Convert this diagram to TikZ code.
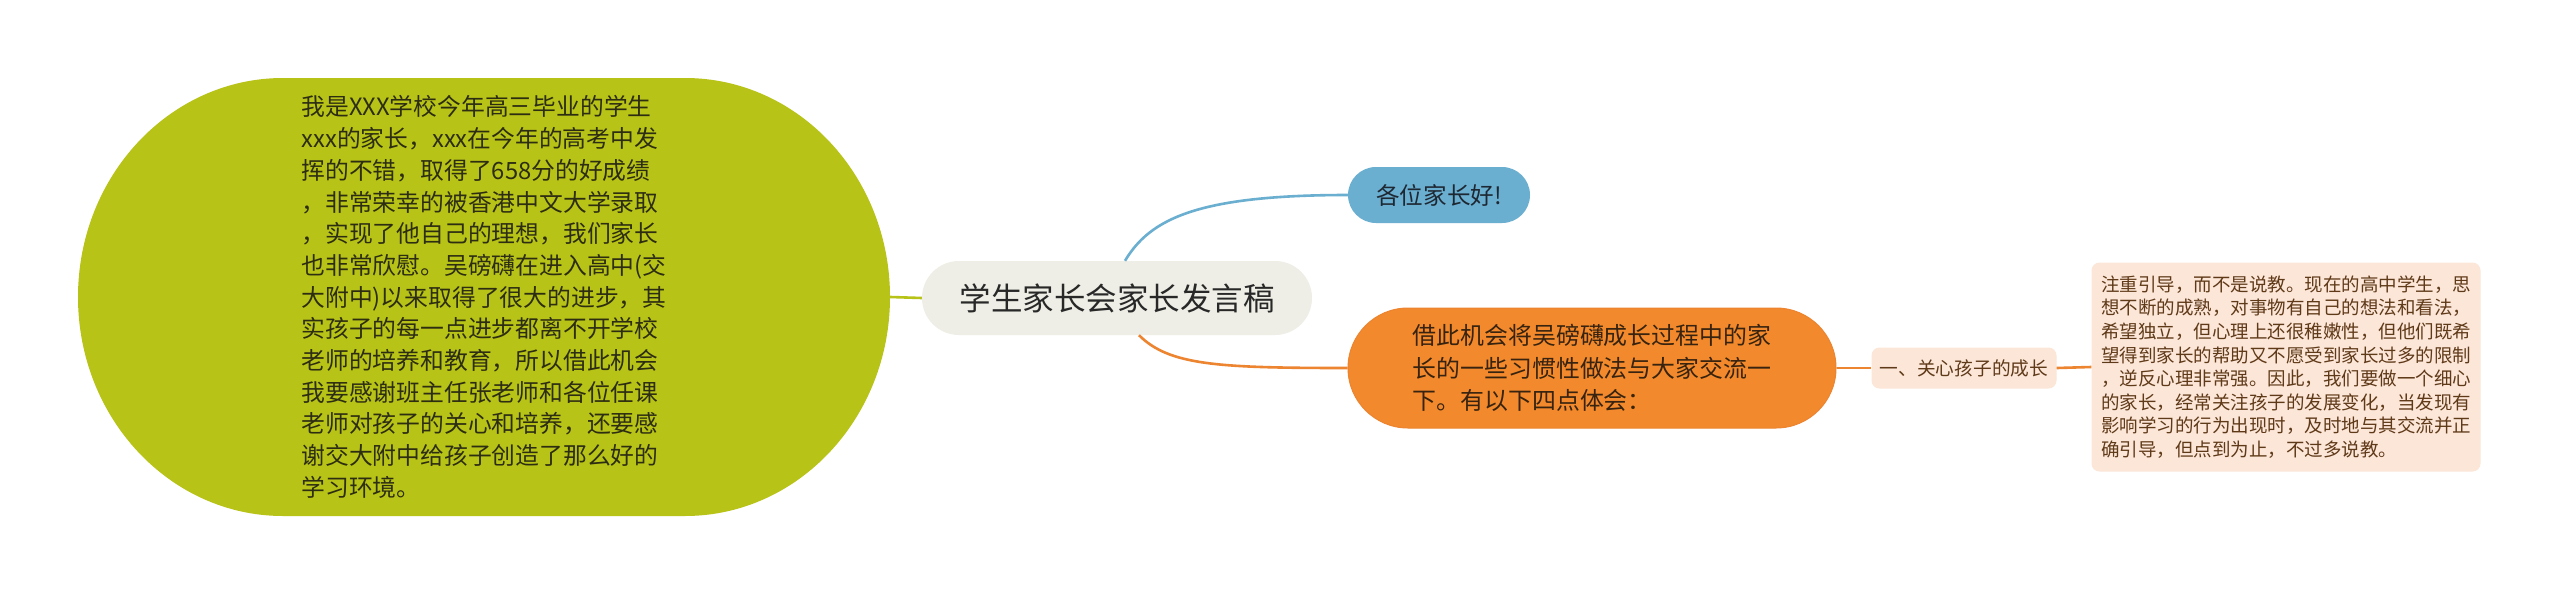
\documentclass[tikz,border=0pt]{standalone}
\usepackage{fontspec}
\setmainfont{Noto Sans CJK SC}
\definecolor{gfill}{RGB}{184,195,24}
\definecolor{gtxt}{RGB}{45,45,18}
\definecolor{cfill}{RGB}{238,238,230}
\definecolor{ctxt}{RGB}{40,40,40}
\definecolor{bfill}{RGB}{106,174,208}
\definecolor{btxt}{RGB}{30,40,50}
\definecolor{ofill}{RGB}{242,137,44}
\definecolor{oline}{RGB}{236,132,48}
\definecolor{otxt}{RGB}{55,35,15}
\definecolor{pfill}{RGB}{252,230,216}
\definecolor{ptxt}{RGB}{95,58,25}
\begin{document}
\begin{tikzpicture}[x=1pt,y=-1pt,
  conn/.style={line width=2.6pt},
  gnode/.style={inner sep=0pt, minimum width=812pt, minimum height=438pt, align=left, text=gtxt,
    font=\fontsize{23.8pt}{31.7pt}\selectfont},
  cnode/.style={fill=cfill, rounded corners=37pt, minimum width=390pt, minimum height=74pt, inner sep=0pt,
    text=ctxt, font=\fontsize{31.5pt}{36pt}\selectfont},
  bnode/.style={fill=bfill, rounded corners=28pt, minimum width=182pt, minimum height=56pt, inner sep=0pt,
    text=btxt, font=\fontsize{23.6pt}{28pt}\selectfont},
  onode/.style={fill=ofill, draw=oline, line width=1pt, rounded corners=60pt, minimum width=488pt, minimum height=120pt, inner sep=0pt,
    align=left, text=otxt, font=\fontsize{23.9pt}{32.5pt}\selectfont},
  snode/.style={fill=pfill, rounded corners=8pt, minimum width=185pt, minimum height=41pt, inner sep=0pt,
    text=ptxt, font=\fontsize{18.7pt}{22pt}\selectfont},
  pnode/.style={fill=pfill, rounded corners=8pt, minimum width=389pt, minimum height=209pt, inner sep=0pt,
    align=left, text=ptxt, font=\fontsize{18.5pt}{23.6pt}\selectfont}
]
\useasboundingbox[fill=white] (0,0) rectangle (2560,595);

% green shape
\fill[gfill] (283,78) -- (685,78) arc[start angle=-90, end angle=90, x radius=205, y radius=219]
  -- (283,516) arc[start angle=90, end angle=270, x radius=205, y radius=219] -- cycle;
\node[gnode] (g) at (484,297) {我是XXX学校今年高三毕业的学生\\
xxx的家长，xxx在今年的高考中发\\
挥的不错，取得了658分的好成绩\\
，非常荣幸的被香港中文大学录取\\
，实现了他自己的理想，我们家长\\
也非常欣慰。吴磅礴在进入高中(交\\
大附中)以来取得了很大的进步，其\\
实孩子的每一点进步都离不开学校\\
老师的培养和教育，所以借此机会\\
我要感谢班主任张老师和各位任课\\
老师对孩子的关心和培养，还要感\\
谢交大附中给孩子创造了那么好的\\
学习环境。};

\node[cnode] (c) at (1117,298) {学生家长会家长发言稿};
\node[bnode] (b) at (1439,195) {各位家长好!};
\node[onode] (o) at (1592,368) {借此机会将吴磅礴成长过程中的家\\
长的一些习惯性做法与大家交流一\\
下。有以下四点体会：};
\node[snode] (s) at (1964,368) {一、关心孩子的成长};
\node[pnode] (p) at (2286,367) {注重引导，而不是说教。现在的高中学生，思\\
想不断的成熟，对事物有自己的想法和看法，\\
希望独立，但心理上还很稚嫩性，但他们既希\\
望得到家长的帮助又不愿受到家长过多的限制\\
，逆反心理非常强。因此，我们要做一个细心\\
的家长，经常关注孩子的发展变化，当发现有\\
影响学习的行为出现时，及时地与其交流并正\\
确引导，但点到为止，不过多说教。};

% connectors
\draw[conn, gfill] (g.east) -- (c.west);
\draw[conn, bfill] ([xshift=8pt]c.north) .. controls +(25,-42) and +(-150,0) .. (b.west);
\draw[conn, oline] ([xshift=22pt]c.south) .. controls +(30,30) and +(-130,0) .. (o.west);
\draw[conn, oline] (o.east) -- (s.west);
\draw[conn, oline] (s.east) -- (p.west);
\end{tikzpicture}
\end{document}
